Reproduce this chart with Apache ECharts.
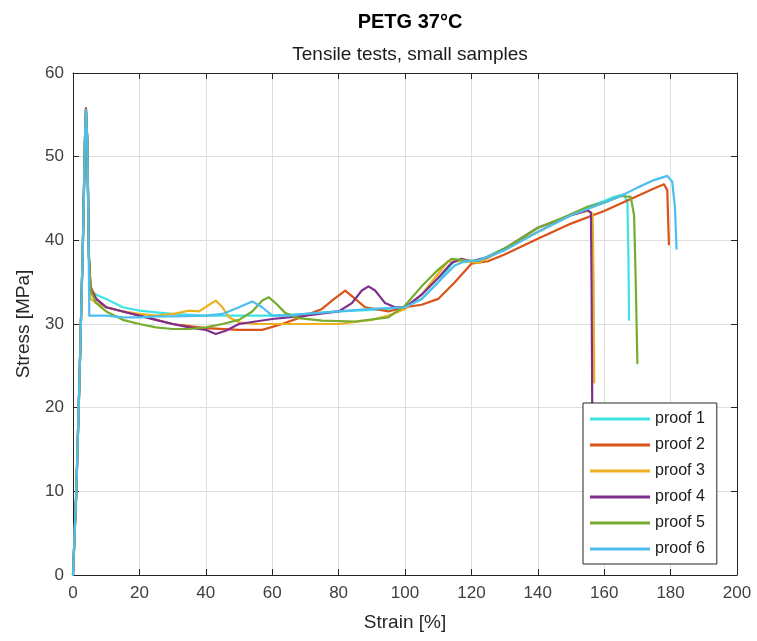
<!DOCTYPE html>
<html>
<head>
<meta charset="utf-8">
<script src="https://cdn.jsdelivr.net/npm/echarts@6/dist/echarts.min.js"></script>
<style>html,body{margin:0;padding:0;background:#fff}#c{width:757px;height:641px}</style>
</head>
<body>
<div id="c"></div>
<script>
const titleText = "PETG 37°C";
const subtitleText = "Tensile tests, small samples";
const xName = "Strain [%]";
const yName = "Stress [MPa]";
const seriesNames = ["proof 1","proof 2","proof 3","proof 4","proof 5","proof 6"];
const colors = ["#3fe3e3","#d95319","#edb120","#7e2f8e","#77ac30","#4dbeee"];

const proof1 = [[0,0],[1,10],[2,24],[3,40],[3.6,52],[3.9,55.5],[4.3,52],[4.8,38],[5.3,34],[7,33.5],[10,33],[15,32],[20,31.6],[25,31.4],[30,31.2],[40,31],[50,31],[60,31],[70,31.2],[80,31.5],[90,31.7],[95,31.8],[100,32],[105,33],[110,35],[115,37.6],[118,37.4],[122,37.5],[127,38.5],[135,40],[145,42],[155,44],[160,44.7],[163,45.2],[166,45.5],[167,44.5],[167.3,38],[167.5,30.5]];
const proof2 = [[0,0],[1,10],[2,24],[3,40],[3.6,52],[3.9,55.8],[4.3,52],[4.8,38],[5.3,34.5],[7,33],[10,32],[15,31.5],[20,31],[30,30],[40,29.5],[50,29.3],[57,29.3],[63,30],[70,31],[75,31.8],[78,32.8],[82,34],[85,33],[88,32],[95,31.5],[100,32],[105,32.3],[110,33],[115,35],[120,37.2],[125,37.5],[130,38.3],[140,40.2],[150,42],[160,43.5],[170,45.3],[175,46.2],[178,46.7],[179,46],[179.3,42],[179.5,39.5]];
const proof3 = [[0,0],[1,10],[2,24],[3,40],[3.6,52],[3.9,55.6],[4.3,52],[4.8,38],[5.3,33],[7,32.5],[10,32],[15,31.5],[20,31.2],[25,31],[30,31.2],[35,31.6],[38,31.5],[41,32.3],[43,32.8],[45,32],[47,30.8],[50,30.2],[55,30],[60,30],[70,30],[80,30],[90,30.5],[95,31],[100,31.8],[105,33.5],[110,36],[113,37.5],[118,37.5],[122,37.3],[128,38.5],[135,40],[140,41],[145,42],[150,43],[155,43.5],[156.5,43.2],[156.8,35],[157,23]];
const proof4 = [[0,0],[1,10],[2,24],[3,40],[3.6,52],[3.9,55.7],[4.3,52],[4.8,38],[5.3,34],[7,33],[10,32],[15,31.5],[20,31],[25,30.5],[30,30],[35,29.6],[40,29.3],[43,28.8],[46,29.2],[50,30],[55,30.3],[60,30.6],[70,31],[80,31.5],[84,32.5],[87,34],[89,34.5],[91,34],[94,32.5],[97,32],[100,32],[105,33.5],[110,35.5],[114,37.3],[117,37.8],[120,37.5],[125,38],[130,39],[140,41.5],[150,43],[155,43.6],[156,43.3],[156.2,35],[156.4,20]];
const proof5 = [[0,0],[1,10],[2,24],[3,40],[3.6,52],[3.9,55.6],[4.3,52],[4.8,38],[5.3,34],[7,32.5],[10,31.5],[15,30.5],[20,30],[25,29.6],[30,29.4],[35,29.4],[40,29.6],[45,30],[50,30.5],[54,31.5],[57,32.8],[59,33.2],[61,32.5],[64,31.3],[68,30.7],[75,30.4],[85,30.3],[95,30.8],[100,32.2],[105,34.5],[110,36.5],[114,37.8],[118,37.6],[122,37.5],[130,39],[140,41.5],[147,42.6],[155,44],[160,44.5],[165,45.3],[168,45.2],[169,43],[169.5,35],[170,25.3]];
const proof6 = [[0,0],[1,10],[2,24],[3,40],[3.6,52],[3.9,55.6],[4.3,52],[4.7,40],[4.9,31],[6,31],[10,31],[15,30.8],[20,30.8],[25,30.9],[30,30.9],[40,31],[45,31.2],[50,32],[54,32.7],[57,32],[60,31],[65,31],[70,31.2],[80,31.5],[90,31.8],[100,32],[105,33],[110,35],[115,37],[118,37.5],[122,37.6],[130,38.8],[140,41],[150,43],[160,44.5],[165,45.3],[170,46.3],[175,47.2],[179,47.7],[180.5,47],[181.3,44],[181.8,39]];
const allData = [proof1, proof2, proof3, proof4, proof5, proof6];

const font = "'Liberation Sans', Arial, sans-serif";
const axisColor = "#262626";
const chart = echarts.init(document.getElementById('c'), null, {renderer: 'canvas'});
const grid = {left: 73, right: 20, top: 73, bottom: 66};

chart.setOption({
  backgroundColor: '#ffffff',
  animation: false,
  title: [
    {text: titleText, left: 405, top: 7, textAlign: 'center',
     textStyle: {fontFamily: font, fontSize: 20, fontWeight: 'bold', color: '#000'}},
    {text: subtitleText, left: 405, top: 40, textAlign: 'center',
     textStyle: {fontFamily: font, fontSize: 19, fontWeight: 'normal', color: '#1a1a1a'}}
  ],
  grid: grid,
  legend: {
    data: seriesNames,
    orient: 'vertical',
    left: 583, top: 403,
    backgroundColor: '#fff',
    borderColor: '#262626', borderWidth: 1,
    padding: [7, 12, 6, 7],
    itemWidth: 60, itemHeight: 3, itemGap: 8,
    icon: 'rect',
    textStyle: {fontFamily: font, fontSize: 16, color: '#1a1a1a', lineHeight: 18, padding: [0,0,0,0]}
  },
  xAxis: [
    {type: 'value', min: 0, max: 200, interval: 20, position: 'bottom',
     name: xName, nameLocation: 'middle', nameGap: 38,
     nameTextStyle: {fontFamily: font, fontSize: 19, color: '#262626'},
     axisLine: {show: true, onZero: false, lineStyle: {color: axisColor, width: 1}},
     axisTick: {show: true, inside: true, length: 6, lineStyle: {color: axisColor}},
     axisLabel: {fontFamily: font, fontSize: 17, color: '#404040', margin: 10},
     splitLine: {show: true, lineStyle: {color: '#dedede', width: 1}}},
    {type: 'value', min: 0, max: 200, interval: 20, position: 'top',
     axisLine: {show: true, onZero: false, lineStyle: {color: axisColor, width: 1}},
     axisTick: {show: true, inside: true, length: 6, lineStyle: {color: axisColor}},
     axisLabel: {show: false}, splitLine: {show: false}}
  ],
  yAxis: [
    {type: 'value', min: 0, max: 60, interval: 10, position: 'left',
     name: yName, nameLocation: 'middle', nameGap: 40, nameRotate: 90,
     nameTextStyle: {fontFamily: font, fontSize: 19, color: '#262626'},
     axisLine: {show: true, onZero: false, lineStyle: {color: axisColor, width: 1}},
     axisTick: {show: true, inside: true, length: 6, lineStyle: {color: axisColor}},
     axisLabel: {fontFamily: font, fontSize: 17, color: '#404040', margin: 9},
     splitLine: {show: true, lineStyle: {color: '#dedede', width: 1}}},
    {type: 'value', min: 0, max: 60, interval: 10, position: 'right',
     axisLine: {show: true, onZero: false, lineStyle: {color: axisColor, width: 1}},
     axisTick: {show: true, inside: true, length: 6, lineStyle: {color: axisColor}},
     axisLabel: {show: false}, splitLine: {show: false}}
  ],
  series: allData.map((d, i) => ({
    name: seriesNames[i],
    type: 'line',
    xAxisIndex: 0, yAxisIndex: 0,
    data: d,
    showSymbol: false,
    symbol: 'none',
    smooth: false,
    color: colors[i],
    lineStyle: {color: colors[i], width: 2.2, join: 'round', cap: 'round'},
    emphasis: {disabled: true}
  }))
});
</script>
</body>
</html>
